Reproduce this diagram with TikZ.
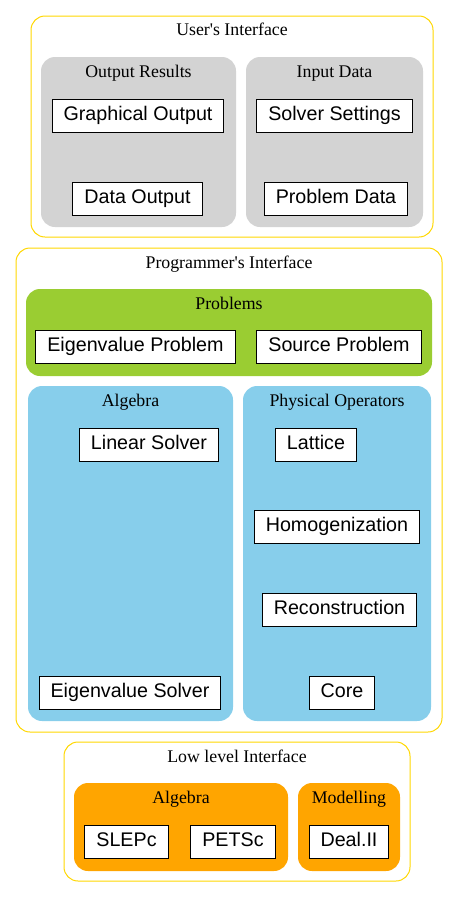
\documentclass[tikz,border=0pt]{standalone}
\usepackage{fontspec}
\setmainfont{Liberation Serif}[Ligatures=TeXOff]
\setsansfont{Liberation Sans}
\usetikzlibrary{positioning}
\definecolor{gold}{HTML}{FFD700}
\definecolor{lgray}{HTML}{D3D3D3}
\definecolor{ygreen}{HTML}{9ACD32}
\definecolor{sky}{HTML}{87CEEB}
\definecolor{orng}{HTML}{FFA500}

\begin{document}
\begin{tikzpicture}[x=1pt,y=-1pt,
 box/.style={rectangle,draw,fill=white,line width=1pt,minimum height=33pt,inner xsep=11.5pt,text height=14.4pt,text depth=4.4pt,font=\sffamily\fontsize{19.7}{22}\selectfont},
 layer/.style={draw=gold,line width=1pt,rounded corners=14pt},
 group/.style={rounded corners=14pt},
 title/.style={anchor=base,font=\fontsize{17.8}{20}\selectfont}]
 \useasboundingbox (0,0) rectangle (459,897);

 % user's interface
 \draw[layer] (31,16) rectangle (433,237);
 \node[title] (tuser) at (232,35.5) {User's Interface};
 \fill[group,lgray] (41,57) rectangle (236,227);
 \node[title] (tout) at (138.5,77.5) {Output Results};
 \fill[group,lgray] (246,57) rectangle (423,227);
 \node[title] (tin) at (334.5,77.5) {Input Data};
 \node[box] (graph) at (138,115.5) {Graphical Output};
 \node[box] (dout) at (137.5,198.5) {Data Output};
 \node[box] (sset) at (334.5,115.5) {Solver Settings};
 \node[box] (pdata) at (336,198.5) {Problem Data};

 % programmer's interface
 \draw[layer] (16,248) rectangle (442,732);
 \node[title] (tprog) at (229,268) {Programmer's Interface};
 \fill[group,ygreen] (26,289) rectangle (432,376);
 \node[title] (tprob) at (229,309) {Problems};
 \node[box] (eprob) at (135.5,346.5) {Eigenvalue Problem};
 \node[box] (sprob) at (339,346.5) {Source Problem};
 \fill[group,sky] (28,386) rectangle (233,721);
 \node[title] (talg) at (130.5,406) {Algebra};
 \fill[group,sky] (243,386) rectangle (431,721);
 \node[title] (tphys) at (337,406) {Physical Operators};
 \node[box] (lsolv) at (149,444.5) {Linear Solver};
 \node[box] (esolv) at (130,692.5) {Eigenvalue Solver};
 \node[box] (latt) at (316,444.5) {Lattice};
 \node[box] (homog) at (337,526.5) {Homogenization};
 \node[box] (recon) at (339.5,609.5) {Reconstruction};
 \node[box] (core) at (342,692.5) {Core};

 % low level interface
 \draw[layer] (64,742) rectangle (410,881);
 \node[title] (tlow) at (237,762) {Low level Interface};
 \fill[group,orng] (74,783) rectangle (288,871);
 \node[title] (talg2) at (181,803) {Algebra};
 \fill[group,orng] (298,783) rectangle (400,871);
 \node[title] (tmod) at (349,803) {Modelling};
 \node[box] (slepc) at (126.5,841.5) {SLEPc};
 \node[box] (petsc) at (233,841.5) {PETSc};
 \node[box] (deal) at (349,841.5) {Deal.II};
\end{tikzpicture}
\end{document}
